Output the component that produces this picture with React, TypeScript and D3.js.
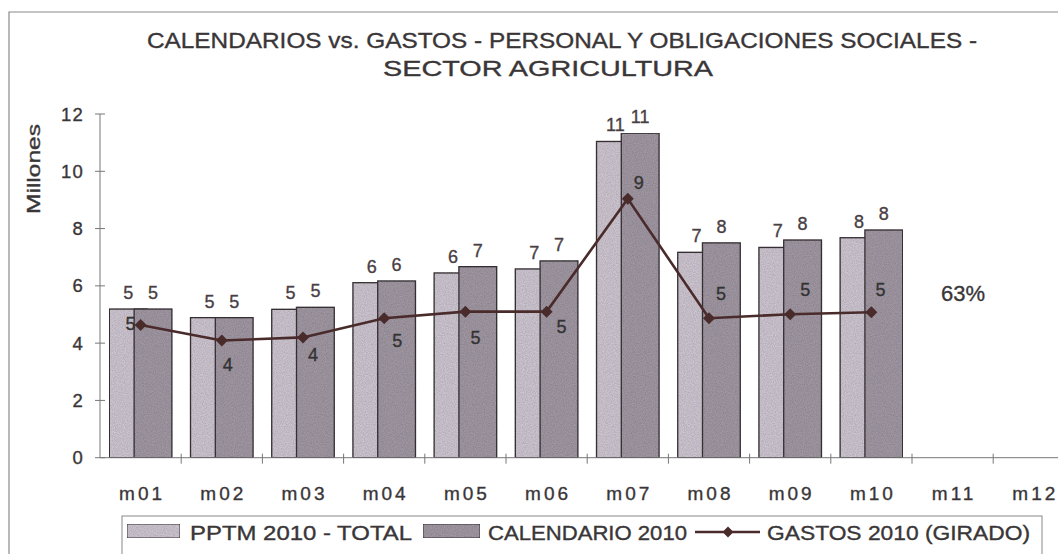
import React from "react";
import * as d3 from "d3";

const months = ["m01", "m02", "m03", "m04", "m05", "m06", "m07", "m08", "m09", "m10", "m11", "m12"];
const pptm = [5.19, 4.89, 5.18, 6.11, 6.45, 6.59, 11.04, 7.17, 7.34, 7.68];
const calendario = [5.19, 4.89, 5.25, 6.17, 6.67, 6.87, 11.33, 7.5, 7.6, 7.95];
const gastos = [4.63, 4.09, 4.2, 4.87, 5.1, 5.1, 9.04, 4.87, 5.01, 5.08];
const yTicks = [0, 2, 4, 6, 8, 10, 12];
const titleLines = [
  "CALENDARIOS vs. GASTOS - PERSONAL Y OBLIGACIONES SOCIALES -",
  "SECTOR AGRICULTURA",
];
const seriesNames = ["PPTM 2010 - TOTAL", "CALENDARIO 2010", "GASTOS 2010 (GIRADO)"];
const percentLabel = "63%";
// label offsets (dx, dy) for the GASTOS line labels, relative to each point
const lineLabelOffsets: [number, number][] = [
  [-10, 5], [6, 30], [10, 24], [13, 29], [10, 32], [15, 21], [11, -10], [12, -18], [15, -18], [9, -16],
];

const W = 1058;
const H = 554;
const FONT = "Arial, 'Liberation Sans', Helvetica, sans-serif";
const LIGHT = "#d0c8d3";
const DARK = "#a39aa5";
const STROKE = "#3a3438";
const LINE = "#4a2b2b";
const TEXT = "#3a3638";

export default function App() {
  const x = d3.scaleBand<string>().domain(months).range([100, 100 + 12 * 81.2]).padding(0);
  const y = d3.scaleLinear().domain([0, 12]).range([457.7, 114]);
  const bw = x.bandwidth();
  const barW = bw * 0.465;
  const inner = bw * 0.77;
  const pad = (bw - inner) / 2;
  const x1 = (m: string) => (x(m) as number) + pad;
  const x2 = (m: string) => (x(m) as number) + pad + inner - barW;
  const cx = (m: string) => (x(m) as number) + bw / 2;

  const lineGen = d3
    .line<number>()
    .x((_, i) => cx(months[i]))
    .y((d) => y(d));

  const diamond = (px: number, py: number, r: number) =>
    `M${px},${py - r}L${px + r},${py}L${px},${py + r}L${px - r},${py}Z`;

  const heavy = { stroke: "currentColor", strokeWidth: 0.35 } as const;

  return (
    <svg width={W} height={H} style={{ position: "absolute", left: 0, top: 0, background: "#fff" }} fontFamily={FONT}>
      <defs>
        <filter id="grain" x="0" y="0" width="100%" height="100%">
          <feTurbulence type="fractalNoise" baseFrequency="0.9" numOctaves={2} seed={3} result="n" />
          <feColorMatrix in="n" type="matrix" values="0 0 0 0 0  0 0 0 0 0  0 0 0 0 0  0 0 0 0.45 -0.08" result="a" />
          <feComposite in="a" in2="SourceGraphic" operator="in" result="g" />
          <feMerge>
            <feMergeNode in="SourceGraphic" />
            <feMergeNode in="g" />
          </feMerge>
        </filter>
      </defs>
      <rect x={0} y={0} width={W} height={H} fill="#fff" />
      {/* chart border */}
      <path d={`M9,${H}V12H${W}`} fill="none" stroke="#8a8a8a" strokeWidth={1.2} />

      {/* title */}
      <g color={TEXT} fill={TEXT}>
        <text x={562} y={48} textAnchor="middle" fontSize={22.5} textLength={830} lengthAdjust="spacingAndGlyphs" {...heavy}>
          {titleLines[0]}
        </text>
        <text x={548} y={76} textAnchor="middle" fontSize={22.5} textLength={330} lengthAdjust="spacingAndGlyphs" {...heavy}>
          {titleLines[1]}
        </text>

        {/* y axis title */}
        <text transform="translate(40,169) rotate(-90)" textAnchor="middle" fontSize={19} textLength={90} lengthAdjust="spacingAndGlyphs" {...heavy}>
          Millones
        </text>
      </g>

      {/* bars */}
      <g filter="url(#grain)">
        {pptm.map((v, i) => (
          <rect key={"p" + i} x={x1(months[i])} y={y(v)} width={barW} height={y(0) - y(v)} fill={LIGHT} stroke={STROKE} strokeWidth={1.3} />
        ))}
        {calendario.map((v, i) => (
          <rect key={"c" + i} x={x2(months[i])} y={y(v)} width={barW} height={y(0) - y(v)} fill={DARK} stroke={STROKE} strokeWidth={1.3} />
        ))}
      </g>

      {/* axes */}
      <line x1={100} x2={100} y1={y(12)} y2={y(0)} stroke="#777" strokeWidth={1} />
      <line x1={100} x2={W} y1={y(0)} y2={y(0)} stroke="#777" strokeWidth={1} />
      {yTicks.map((t) => (
        <g key={"yt" + t} color={TEXT}>
          <line x1={95} x2={105} y1={y(t)} y2={y(t)} stroke="#777" />
          <text x={84} y={y(t) + 6.5} textAnchor="end" fontSize={18.5} fill={TEXT} letterSpacing={1.2} {...heavy}>
            {t}
          </text>
        </g>
      ))}
      {months.map((m, i) => (
        <g key={"xt" + m} color={TEXT}>
          {i > 0 && <line x1={x(m)} x2={x(m)} y1={y(0) - 4} y2={y(0) + 6} stroke="#777" />}
          <text x={cx(m) + 1.5} y={500} textAnchor="middle" fontSize={19} fill={TEXT} letterSpacing={3} {...heavy}>
            {m}
          </text>
        </g>
      ))}

      {/* bar labels */}
      <g color="#4a3f45" fill="#4a3f45">
        {pptm.map((v, i) => (
          <text key={"pl" + i} x={x1(months[i]) + barW / 2} y={y(v) - 10} textAnchor="middle" fontSize={18} {...heavy}>
            {d3.format(".0f")(v)}
          </text>
        ))}
        {calendario.map((v, i) => (
          <text key={"cl" + i} x={x2(months[i]) + barW / 2} y={y(v) - 10} textAnchor="middle" fontSize={18} {...heavy}>
            {d3.format(".0f")(v)}
          </text>
        ))}
      </g>

      {/* line */}
      <path d={lineGen(gastos) || ""} fill="none" stroke={LINE} strokeWidth={2.6} />
      {gastos.map((v, i) => (
        <path key={"d" + i} d={diamond(cx(months[i]), y(v), 6)} fill={LINE} />
      ))}
      <g color="#333" fill="#333">
        {gastos.map((v, i) => (
          <text key={"gl" + i} x={cx(months[i]) + lineLabelOffsets[i][0]} y={y(v) + lineLabelOffsets[i][1]} textAnchor="middle" fontSize={18} {...heavy}>
            {d3.format(".0f")(v)}
          </text>
        ))}
      </g>

      <text x={963} y={301} textAnchor="middle" fontSize={22} fill={TEXT} color={TEXT} {...heavy}>
        {percentLabel}
      </text>

      {/* legend */}
      <rect x={122} y={516} width={920} height={50} fill="#fff" stroke="#888" strokeWidth={1} />
      <rect x={127} y={524} width={53} height={14} fill={LIGHT} stroke={STROKE} strokeWidth={1} filter="url(#grain)" />
      <g color={TEXT} fill={TEXT}>
        <text x={190} y={540} fontSize={20} textLength={222} lengthAdjust="spacingAndGlyphs" {...heavy}>
          {seriesNames[0]}
        </text>
        <text x={488} y={540} fontSize={20} textLength={199} lengthAdjust="spacingAndGlyphs" {...heavy}>
          {seriesNames[1]}
        </text>
        <text x={767} y={540} fontSize={20} textLength={263} lengthAdjust="spacingAndGlyphs" {...heavy}>
          {seriesNames[2]}
        </text>
      </g>
      <rect x={423} y={524} width={57} height={14} fill={DARK} stroke={STROKE} strokeWidth={1} filter="url(#grain)" />
      <line x1={695} x2={760} y1={532} y2={532} stroke={LINE} strokeWidth={2.4} />
      <path d={diamond(728, 532, 5.5)} fill={LINE} />
    </svg>
  );
}
